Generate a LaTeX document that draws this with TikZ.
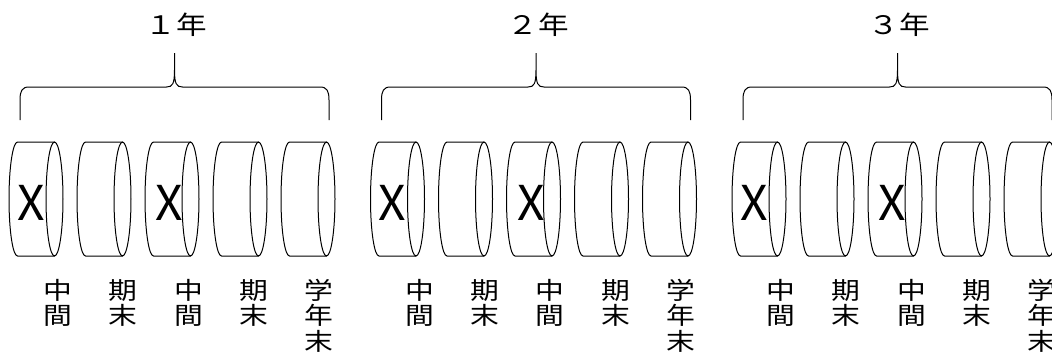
\documentclass[tikz,border=0pt]{standalone}
\usepackage{fontspec}
\newfontfamily\jp[FakeStretch=1.2]{Noto Sans CJK JP}
\newfontfamily\jpx{Noto Sans CJK JP}
\begin{document}
\begin{tikzpicture}[x=1pt,y=-1pt,
  yeartitle/.style={font=\jp\fontsize{25.5}{28}\selectfont, inner sep=0pt, anchor=center},
  lab/.style={font=\jp\fontsize{24}{25.5}\selectfont, inner sep=0pt, anchor=north, align=center},
  xmark/.style={font=\jpx\fontsize{48}{50}\selectfont, inner sep=0pt, anchor=center},
  cyl/.style={draw=black, line width=1pt},
  bracepath/.style={draw=black, line width=1pt}]
\useasboundingbox (0,0) rectangle (1052,354);
\fill[white] (0,0) rectangle (1052,354);
\clip (0,0) rectangle (1052,354);
\foreach \g/\yr in {0/１,1/２,2/３} {
  \pgfmathsetmacro{\l}{20+361.5*\g}
  \pgfmathsetmacro{\r}{\l+309}
  \pgfmathsetmacro{\c}{\l+154.5}
  % brace
  \draw[bracepath] (\l,120) -- (\l,100) .. controls (\l,91) and ({\l+2},87) .. ({\l+9},87)
    -- ({\c-8},87) .. controls ({\c-2},87) and (\c,84) .. (\c,70) -- (\c,53)
    (\c,70) .. controls (\c,84) and ({\c+2},87) .. ({\c+8},87)
    -- ({\r-9},87) .. controls ({\r-2},87) and (\r,91) .. (\r,100) -- (\r,120);
  \node[yeartitle] (t\g) at ({\c+2},25) {\yr 年};
  % cylinders
  \foreach \i in {0,...,4} {
    \pgfmathsetmacro{\xr}{54.5+361.5*\g+68*\i}
    \pgfmathsetmacro{\xl}{\xr-37}
    \draw[cyl] (\xr,199) ellipse [x radius=8.5, y radius=57];
    \draw[cyl] (\xr,142) -- (\xl,142) .. controls ({\xl-4.7},142) and ({\xl-8.5},167.5) .. ({\xl-8.5},199)
      .. controls ({\xl-8.5},230.5) and ({\xl-4.7},256) .. (\xl,256) -- (\xr,256);
  }
  % marks
  \node[xmark] (x\g-1) at ({54.5+361.5*\g-23.5},202.5) {X};
  \node[xmark] (x\g-3) at ({54.5+361.5*\g+136-21},202.5) {X};
  % labels
  \node[lab] (l\g-1) at ({58+361.5*\g},279) {中\\間};
  \node[lab] (l\g-2) at ({58+361.5*\g+65.3},279) {期\\末};
  \node[lab] (l\g-3) at ({58+361.5*\g+130.6},279) {中\\間};
  \node[lab] (l\g-4) at ({58+361.5*\g+195.9},279) {期\\末};
  \node[lab] (l\g-5) at ({58+361.5*\g+261.2},279) {学\\年\\末};
}
\end{tikzpicture}
\end{document}
